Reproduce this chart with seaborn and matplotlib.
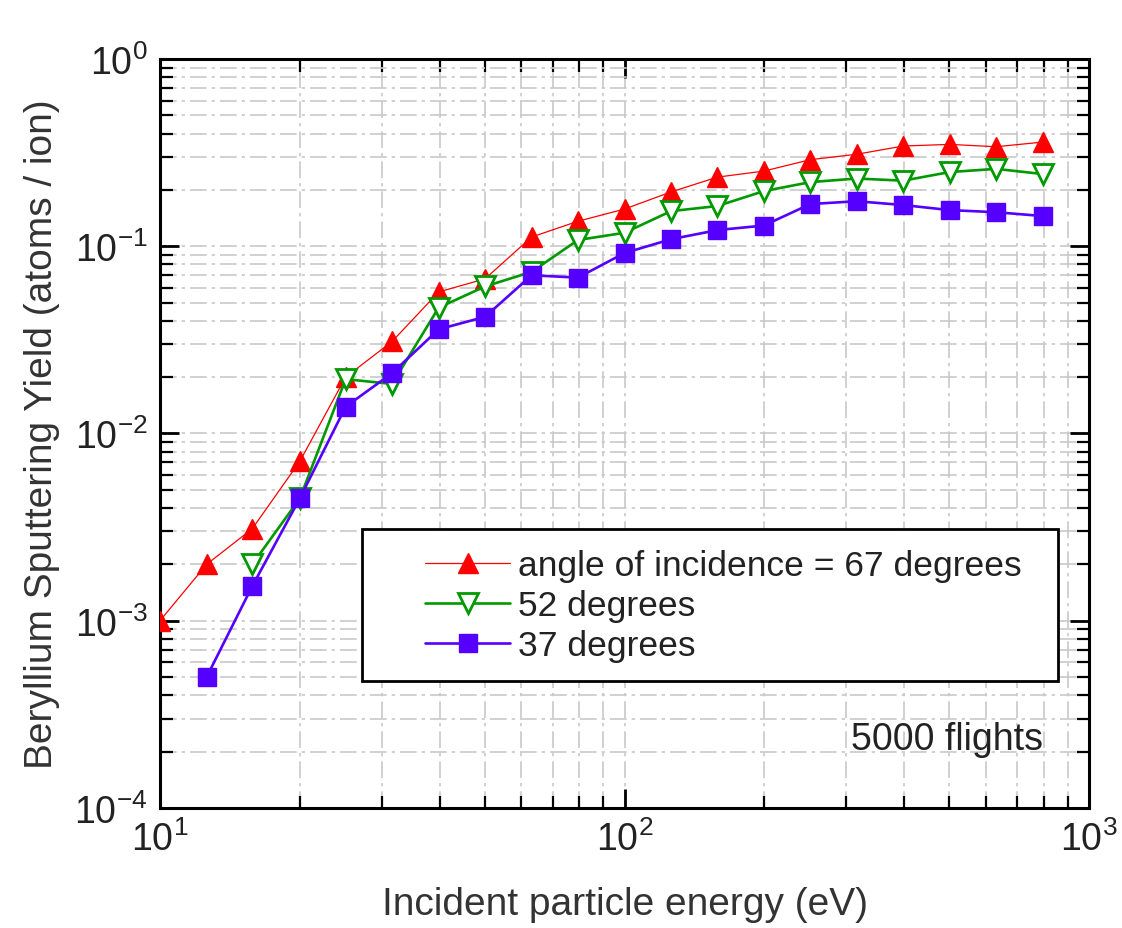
import numpy as np
import pandas as pd
import matplotlib
matplotlib.use("Agg")
import matplotlib.pyplot as plt
import seaborn as sns
from matplotlib.patches import Rectangle
from matplotlib.ticker import LogLocator, FixedLocator, FixedFormatter, NullFormatter

energy = [10.0, 12.6, 15.8, 20.0, 25.1, 31.6, 39.8, 50.1, 63.1, 79.4,
          100.0, 125.9, 158.5, 199.5, 251.2, 316.2, 398.1, 501.2, 631.0, 794.3]

yield_67 = [0.0010, 0.0020, 0.0031, 0.0071, 0.0200, 0.031, 0.057, 0.067, 0.112, 0.136,
            0.158, 0.195, 0.234, 0.252, 0.290, 0.310, 0.343, 0.350, 0.340, 0.360]
yield_52 = [None, None, 0.0020, 0.0045, 0.0195, 0.0184, 0.047, 0.061, 0.073, 0.108,
            0.118, 0.154, 0.164, 0.197, 0.220, 0.230, 0.224, 0.249, 0.259, 0.243]
yield_37 = [None, 0.0005, 0.00153, 0.0045, 0.0139, 0.021, 0.036, 0.042, 0.070, 0.068,
            0.092, 0.109, 0.122, 0.129, 0.168, 0.174, 0.166, 0.156, 0.152, 0.145]

labels = ["angle of incidence = 67 degrees", "52 degrees", "37 degrees"]
x_ticks = [10, 100, 1000]
x_ticklabels = [r"$\mathregular{10^{1}}$", r"$\mathregular{10^{2}}$", r"$\mathregular{10^{3}}$"]
y_ticks = [1e-4, 1e-3, 1e-2, 1e-1, 1]
y_ticklabels = [r"$\mathregular{10^{-4}}$", r"$\mathregular{10^{-3}}$", r"$\mathregular{10^{-2}}$",
                r"$\mathregular{10^{-1}}$", r"$\mathregular{10^{0}}$"]

sns.set_theme(style="white")
plt.rcParams['font.family'] = ['Liberation Sans', 'DejaVu Sans']
plt.rcParams['mathtext.fontset'] = 'custom'
plt.rcParams['mathtext.rm'] = 'Liberation Sans'
plt.rcParams['mathtext.it'] = 'Liberation Sans'
plt.rcParams['axes.unicode_minus'] = False

fig = plt.figure(figsize=(11.22, 9.29), dpi=100)
ax = fig.add_axes([0.1426, 0.1292, 0.8280, 0.8062])

styles = [
    dict(color="#ff0000", marker="^", lw=0.9, ms=15, mfc="#ff0000", mec="#ff0000", mew=1.0),
    dict(color="#009900", marker="v", lw=1.9, ms=14, mfc="white", mec="#009900", mew=2.0),
    dict(color="#5500ff", marker="s", lw=1.9, ms=13, mfc="#5500ff", mec="#5500ff", mew=1.0),
]
series = [yield_67, yield_52, yield_37]
for vals, lab, st in zip(series, labels, styles):
    df = pd.DataFrame({"energy": energy, "yield": vals}).dropna()
    sns.lineplot(data=df, x="energy", y="yield", ax=ax, color=st["color"],
                 marker=st["marker"], linewidth=st["lw"], markersize=st["ms"],
                 markerfacecolor=st["mfc"], markeredgecolor=st["mec"],
                 markeredgewidth=st["mew"], label=lab, zorder=3)

ax.set_xscale("log")
ax.set_yscale("log")
ax.set_xlim(10, 1000)
ax.set_ylim(1e-4, 1)

ax.xaxis.set_major_locator(FixedLocator(x_ticks))
ax.xaxis.set_major_formatter(FixedFormatter(x_ticklabels))
ax.yaxis.set_major_locator(FixedLocator(y_ticks))
ax.yaxis.set_major_formatter(FixedFormatter(y_ticklabels))
ax.xaxis.set_minor_locator(LogLocator(base=10, subs=np.arange(2, 10), numticks=20))
ax.yaxis.set_minor_locator(LogLocator(base=10, subs=np.arange(2, 10), numticks=20))
ax.xaxis.set_minor_formatter(NullFormatter())
ax.yaxis.set_minor_formatter(NullFormatter())

ax.grid(True, which="both", color="#c8c8c8", linestyle=(0, (10, 3, 2, 3)), linewidth=1.2, zorder=0)
ax.set_axisbelow(True)

ax.tick_params(which="both", direction="in", top=True, right=True, bottom=True, left=True,
               color="black")
ax.tick_params(which="major", length=14, width=2, labelsize=27, pad=9, labelcolor="#222222")
ax.tick_params(which="minor", length=9, width=1.6)
for sp in ax.spines.values():
    sp.set_color("black")
    sp.set_linewidth(2.2)

ax.set_xlabel("Incident particle energy (eV)", fontsize=28, color="#333333", labelpad=20)
ax.set_ylabel("Beryllium Sputtering Yield (atoms / ion)", fontsize=28, color="#333333", labelpad=10)

# legend frame drawn separately (wide left padding as in the original)
ax.add_patch(Rectangle((0.2174, 0.1696), 0.7492, 0.2029, transform=ax.transAxes,
                       facecolor="white", edgecolor="black", linewidth=2, zorder=4))
leg = ax.legend(loc="center left", bbox_to_anchor=(0.2853, 0.2700), fontsize=25.5,
                frameon=False, handlelength=2.4, handletextpad=0.22, borderpad=0,
                labelspacing=0.2, borderaxespad=0)
leg.set_zorder(5)
for t in leg.get_texts():
    t.set_color("#222222")

ax.text(0.9505, 0.092, "5000 flights", transform=ax.transAxes, ha="right", va="center",
        fontsize=27, color="#222222")

fig.savefig("out.png", dpi=100)
